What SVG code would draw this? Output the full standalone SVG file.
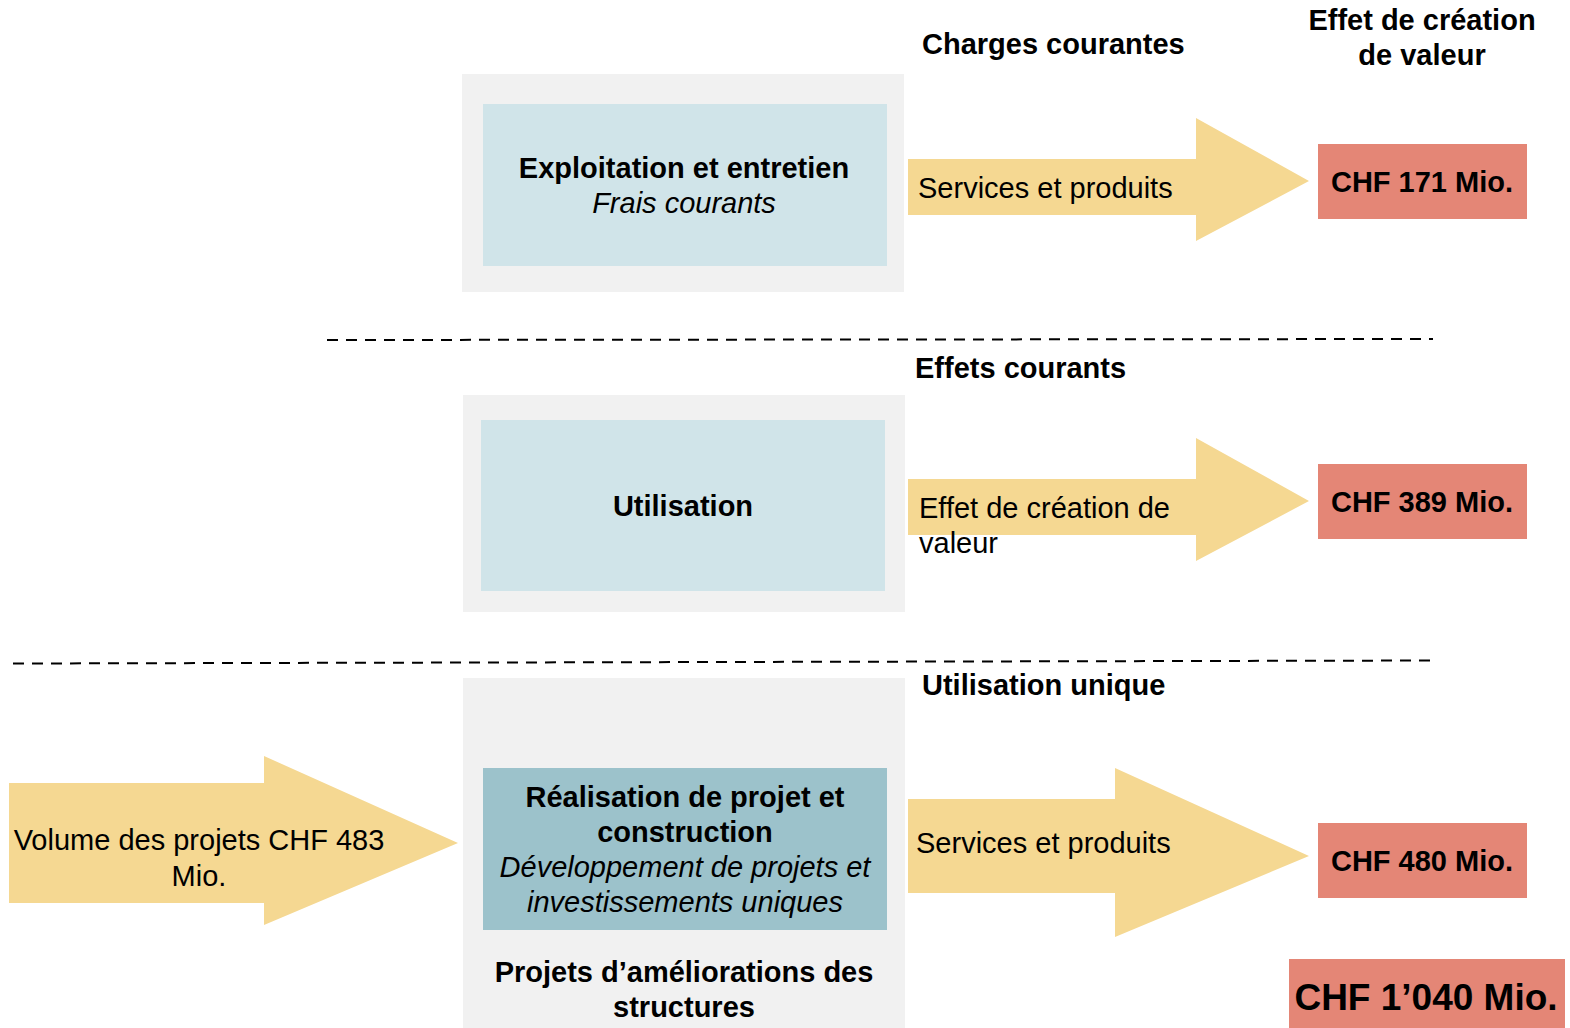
<svg xmlns="http://www.w3.org/2000/svg" width="1570" height="1028" viewBox="0 0 1570 1028">
<style>
text{font-family:"Liberation Sans",Arial,sans-serif;font-size:29px;fill:#000}
.b{font-weight:bold}
.i{font-style:italic}
.c{text-anchor:middle}
.outer{fill:#f1f1f1}
.light{fill:#d0e4e9}
.dark{fill:#9cc2cb}
.arrow{fill:#f5d892}
.red{fill:#e48676}
.dash{stroke:#000;stroke-width:2;stroke-dasharray:11 8;fill:none}
</style>
<rect width="1570" height="1028" fill="#fff"/>
<g id="headers">
<text class="b" x="922" y="54">Charges courantes</text>
<text class="b c" x="1422" y="30">Effet de création</text>
<text class="b c" x="1422" y="65">de valeur</text>
<text class="b" x="915" y="378">Effets courants</text>
<text class="b" x="922" y="695">Utilisation unique</text>
</g>
<g id="separators">
<line class="dash" x1="327" y1="340" x2="1433" y2="339"/>
<line class="dash" x1="13" y1="663.5" x2="1433" y2="660.5"/>
</g>
<g id="node-exploitation">
<rect class="outer" x="462" y="74" width="442" height="218"/>
<rect class="light" x="483" y="104" width="404" height="162"/>
<text class="b c" x="684" y="178">Exploitation et entretien</text>
<text class="i c" x="684" y="213">Frais courants</text>
</g>
<g id="node-utilisation">
<rect class="outer" x="463" y="395" width="442" height="217"/>
<rect class="light" x="481" y="420" width="404" height="171"/>
<text class="b c" x="683" y="516">Utilisation</text>
</g>
<g id="node-realisation">
<rect class="outer" x="463" y="678" width="442" height="350"/>
<rect class="dark" x="483" y="768" width="404" height="162"/>
<text class="b c" x="685" y="807">Réalisation de projet et</text>
<text class="b c" x="685" y="842">construction</text>
<text class="i c" x="685" y="877">Développement de projets et</text>
<text class="i c" x="685" y="912">investissements uniques</text>
<text class="b c" x="684" y="982">Projets d’améliorations des</text>
<text class="b c" x="684" y="1017">structures</text>
</g>
<g id="connectors">
<g id="arrow-volume">
<polygon class="arrow" points="9,783 264,783 264,756 458,843 264,925 264,903 9,903"/>
<text class="c" x="199" y="850">Volume des projets CHF 483</text>
<text class="c" x="199" y="886">Mio.</text>
</g>
<g id="arrow-services-1">
<polygon class="arrow" points="908,159 1196,159 1196,118 1309,181 1196,241 1196,215 908,215"/>
<text x="918" y="198">Services et produits</text>
</g>
<g id="arrow-effet">
<polygon class="arrow" points="908,479 1196,479 1196,438 1309,501 1196,561 1196,535 908,535"/>
<text x="919" y="518">Effet de création de</text>
<text x="919" y="553">valeur</text>
</g>
<g id="arrow-services-2">
<polygon class="arrow" points="908,799 1115,799 1115,768 1309,856 1115,937 1115,893 908,893"/>
<text x="916" y="853">Services et produits</text>
</g>
</g>
<g id="node-chf171">
<rect class="red" x="1318" y="144" width="209" height="75"/>
<text class="b c" x="1422" y="192">CHF 171 Mio.</text>
</g>
<g id="node-chf389">
<rect class="red" x="1318" y="464" width="209" height="75"/>
<text class="b c" x="1422" y="512">CHF 389 Mio.</text>
</g>
<g id="node-chf480">
<rect class="red" x="1318" y="823" width="209" height="75"/>
<text class="b c" x="1422" y="871">CHF 480 Mio.</text>
</g>
<g id="node-total">
<rect class="red" x="1289" y="959" width="276" height="69"/>
<text class="b c" x="1426" y="1010" style="font-size:37px">CHF 1’040 Mio.</text>
</g>
</svg>
